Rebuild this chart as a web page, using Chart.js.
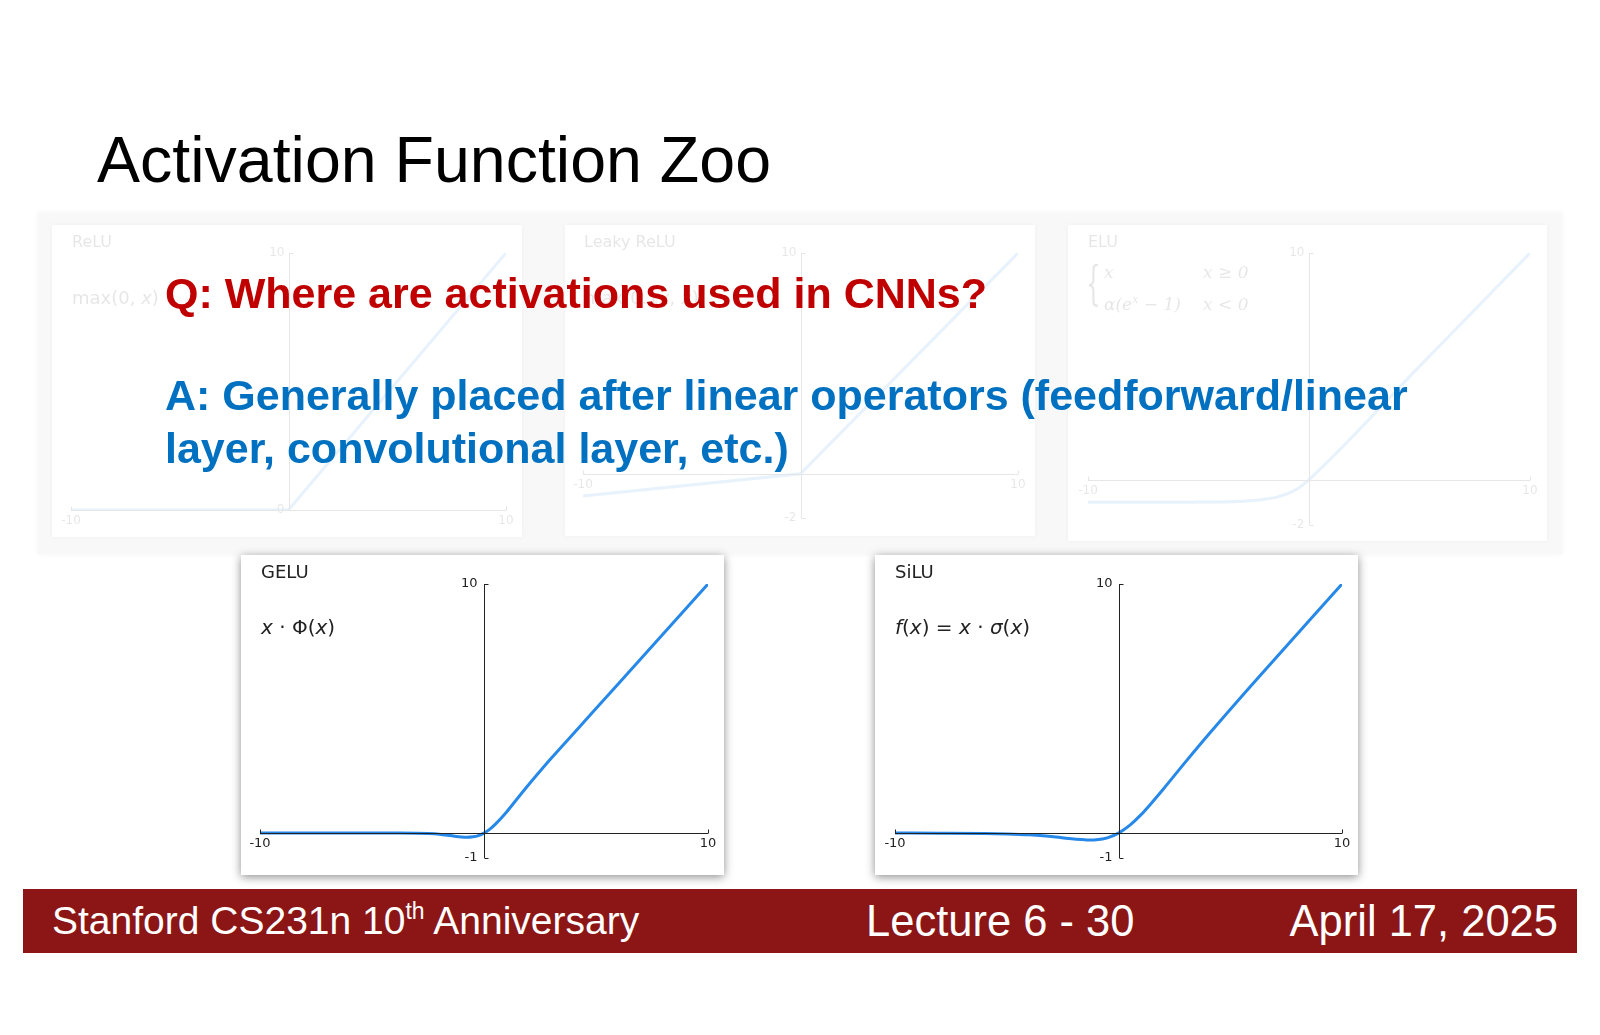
<!DOCTYPE html>
<html>
<head>
<meta charset="utf-8">
<script src="https://cdn.jsdelivr.net/npm/chart.js@4.4.1/dist/chart.umd.min.js"></script>
<style>
  html, body { margin: 0; padding: 0; background: #fff; }
  #slide { position: relative; width: 1600px; height: 1035px; overflow: hidden; background: #fff; font-family: "Liberation Sans", Arial, sans-serif; }
  .abs { position: absolute; }
  #topRow { left: 38px; top: 213px; width: 1524px; height: 341px; background: #f8f8f8; box-shadow: 0 0 6px rgba(0,0,0,0.05); }
  .card { position: absolute; background: #fff; }
  .card.top { box-shadow: 0 0 5px rgba(0,0,0,0.04); }
  .card.bottom { box-shadow: 0 2px 9px rgba(0,0,0,0.45); }
  .fade { position: absolute; left: 0; top: 0; right: 0; bottom: 0; opacity: 0.11; }
  .inner { position: absolute; left: 0; top: 0; right: 0; bottom: 0; }
  .ptitle, .pform { position: absolute; font-family: "DejaVu Sans", sans-serif; color: #222; line-height: 1; white-space: nowrap; }
  .pform i { font-style: italic; }
  .elu { position: absolute; font-family: "DejaVu Serif", "Liberation Serif", serif; color: #222; font-size: 17px; font-style: italic; line-height: 28px; white-space: nowrap; }
  .big { font-size: 43px; font-weight: bold; line-height: 53px; white-space: nowrap; }
  #footer { left: 23px; top: 889px; width: 1554px; height: 64px; background: #8c1515; }
  .ftxt { position: absolute; color: #fff; line-height: 1; white-space: nowrap; }
</style>
</head>
<body>
<div id="slide">
  <div class="abs" style="left:97px; top:128px; font-size:64.5px; line-height:1; color:#000; white-space:nowrap;">Activation Function Zoo</div>

  <div id="topRow" class="abs"></div>

  <div class="card top" style="left:52px; top:225px; width:470px; height:312px;">
    <div class="fade">
      <div class="inner"><canvas id="relu"></canvas></div>
      <div class="ptitle" style="left:20px; top:9px; font-size:16px;">ReLU</div>
      <div class="pform" style="left:20px; top:64px; font-size:18px;">max(0, <i>x</i>)</div>
    </div>
  </div>
  <div class="card top" style="left:565px; top:225px; width:470px; height:311px;">
    <div class="fade">
      <div class="inner"><canvas id="leaky"></canvas></div>
      <div class="ptitle" style="left:19px; top:9px; font-size:16px;">Leaky ReLU</div>
      <div class="pform" style="left:19px; top:64px; font-size:18px;">max(0.1<i>x</i>, <i>x</i>)</div>
    </div>
  </div>
  <div class="card top" style="left:1068px; top:225px; width:479px; height:316px;">
    <div class="fade">
      <div class="inner"><canvas id="elu"></canvas></div>
      <div class="ptitle" style="left:20px; top:9px; font-size:16px;">ELU</div>
      <div class="elu" style="left:18px; top:30px; font-size:46px; line-height:56px; font-style:normal; font-weight:200; transform:scaleX(0.5); transform-origin:left top;">{</div>
      <div class="elu" style="left:36px; top:33px;"><span style="display:inline-block;width:99px;">x</span>x ≥ 0<br><span style="display:inline-block;width:99px;">α(e<sup style="font-size:11px">x</sup> − 1)</span>x &lt; 0</div>
    </div>
  </div>

  <div class="card bottom" style="left:241px; top:555px; width:483px; height:320px;">
    <div class="inner"><canvas id="gelu"></canvas></div>
    <div class="ptitle" style="left:20px; top:8px; font-size:18px;">GELU</div>
    <div class="pform" style="left:20px; top:62px; font-size:20px;"><i>x</i> · Φ(<i>x</i>)</div>
  </div>
  <div class="card bottom" style="left:875px; top:555px; width:483px; height:320px;">
    <div class="inner"><canvas id="silu"></canvas></div>
    <div class="ptitle" style="left:20px; top:8px; font-size:18px;">SiLU</div>
    <div class="pform" style="left:20px; top:62px; font-size:20px;"><i>f</i>(<i>x</i>) = <i>x</i> · <i>σ</i>(<i>x</i>)</div>
  </div>

  <div class="abs big" style="left:165px; top:272px; color:#c00000; line-height:1;">Q: Where are activations used in CNNs?</div>
  <div class="abs big" style="left:165px; top:369px; color:#0070c0;">A: Generally placed after linear operators (feedforward/linear<br>layer, convolutional layer, etc.)</div>

  <div id="footer" class="abs"></div>
  <div class="ftxt" style="left:52px; top:901px; font-size:39px;">Stanford CS231n 10<span style="font-size:23px; position:relative; top:-15px;">th</span> Anniversary</div>
  <div class="ftxt" style="left:866px; top:900px; font-size:43.5px;">Lecture 6 - 30</div>
  <div class="ftxt" style="right:42px; top:900px; font-size:43.5px;">April 17, 2025</div>
</div>

<script>
// x range and tick labels
const xTicks = [-10, 10];

// ReLU
const reluX = [-10, 0, 10];
const reluY = [0, 0, 10];
const reluYTicks = [0, 10];

// Leaky ReLU
const leakyX = [-10, 0, 10];
const leakyY = [-1, 0, 10];
const leakyYTicks = [-2, 10];

// ELU
const eluX = [-10, -8, -6, -5, -4, -3, -2.5, -2, -1.5, -1, -0.5, 0, 5, 10];
const eluY = [-1, -1, -1, -0.99, -0.98, -0.95, -0.92, -0.86, -0.78, -0.63, -0.39, 0, 5, 10];
const eluYTicks = [-2, 10];

// GELU
const geluX = [-10, -6, -4, -3, -2.5, -2, -1.5, -1, -0.75, -0.5, -0.25, 0, 0.25, 0.5, 1, 1.5, 2, 2.5, 3, 4, 6, 10];
const geluY = [0, 0, 0, -0.004, -0.016, -0.045, -0.1, -0.16, -0.17, -0.15, -0.1, 0, 0.15, 0.35, 0.84, 1.4, 1.95, 2.48, 3.0, 4.0, 6.0, 10];
const geluYTicks = [-1, 10];

// SiLU
const siluX = [-10, -8, -6, -5, -4, -3, -2, -1.5, -1.25, -1, -0.5, 0, 0.5, 1, 1.5, 2, 3, 4, 6, 10];
const siluY = [0, -0.003, -0.015, -0.034, -0.07, -0.14, -0.24, -0.27, -0.28, -0.27, -0.19, 0, 0.31, 0.73, 1.23, 1.76, 2.86, 3.93, 5.99, 10];
const siluYTicks = [-1, 10];

const lineBlue = '#2688e8';
const axisColor = '#222';

// axes through the origin, with the end ticks drawn inwards
const originAxes = {
    id: 'originAxes',
    afterDatasetsDraw(chart, args, o) {
        const { ctx, scales: { x, y } } = chart;
        const x0 = Math.round(x.getPixelForValue(0)) + 0.5;
        const y0 = Math.round(y.getPixelForValue(0)) + 0.5;
        ctx.save();
        ctx.strokeStyle = axisColor;
        ctx.lineWidth = 1;
        ctx.beginPath();
        ctx.moveTo(x0, y.getPixelForValue(y.max));
        ctx.lineTo(x0, y.getPixelForValue(y.min));
        ctx.moveTo(x.getPixelForValue(x.min), y0);
        ctx.lineTo(x.getPixelForValue(x.max), y0);
        o.yTicks.forEach(v => {
            const py = Math.round(y.getPixelForValue(v)) + 0.5;
            ctx.moveTo(x0, py);
            ctx.lineTo(x0 + o.tick, py);
        });
        xTicks.forEach(v => {
            const px = Math.round(x.getPixelForValue(v)) + 0.5;
            ctx.moveTo(px, y0);
            ctx.lineTo(px, y0 - o.tick);
        });
        ctx.stroke();

        ctx.fillStyle = axisColor;
        ctx.font = o.fontSize + 'px "DejaVu Sans"';
        ctx.textAlign = 'center';
        ctx.textBaseline = 'top';
        xTicks.forEach(v => ctx.fillText(String(v), x.getPixelForValue(v), y0 + o.xGap));
        ctx.textAlign = 'right';
        ctx.textBaseline = 'middle';
        o.yTicks.forEach(v => ctx.fillText(String(v), x0 - o.yGap, y.getPixelForValue(v)));
        ctx.restore();
    }
};

function makeChart(id, xs, ys, yTicks, pad, opts) {
    return new Chart(document.getElementById(id), {
        type: 'line',
        data: {
            datasets: [{
                data: xs.map((x, i) => ({ x: x, y: ys[i] })),
                borderColor: lineBlue,
                borderWidth: opts.lw,
                borderCapStyle: 'round',
                pointRadius: 0,
                fill: false,
                cubicInterpolationMode: opts.smooth ? 'monotone' : 'default',
                tension: 0
            }]
        },
        options: {
            responsive: true,
            maintainAspectRatio: false,
            animation: false,
            layout: { padding: pad },
            plugins: {
                legend: { display: false },
                tooltip: { enabled: false },
                originAxes: { yTicks: yTicks, tick: opts.tick, fontSize: opts.fs, xGap: opts.xGap, yGap: opts.yGap }
            },
            scales: {
                x: { type: 'linear', min: -10, max: 10, display: false },
                y: { type: 'linear', min: yTicks[0], max: yTicks[yTicks.length - 1], display: false }
            }
        },
        plugins: [originAxes]
    });
}

const topStyle = { lw: 3, tick: 4, fs: 12, xGap: 4, yGap: 5, smooth: true };
const botStyle = { lw: 3, tick: 4, fs: 13, xGap: 4, yGap: 7, smooth: true };

makeChart('relu', reluX, reluY, reluYTicks, { left: 19, right: 16, top: 28, bottom: 27 }, Object.assign({}, topStyle, { smooth: false }));
makeChart('leaky', leakyX, leakyY, leakyYTicks, { left: 18, right: 17, top: 28, bottom: 18 }, Object.assign({}, topStyle, { smooth: false }));
makeChart('elu', eluX, eluY, eluYTicks, { left: 20, right: 17, top: 28, bottom: 16 }, topStyle);
makeChart('gelu', geluX, geluY, geluYTicks, { left: 19, right: 16, top: 29, bottom: 17 }, botStyle);
makeChart('silu', siluX, siluY, siluYTicks, { left: 20, right: 16, top: 29, bottom: 17 }, botStyle);
</script>
</body>
</html>
